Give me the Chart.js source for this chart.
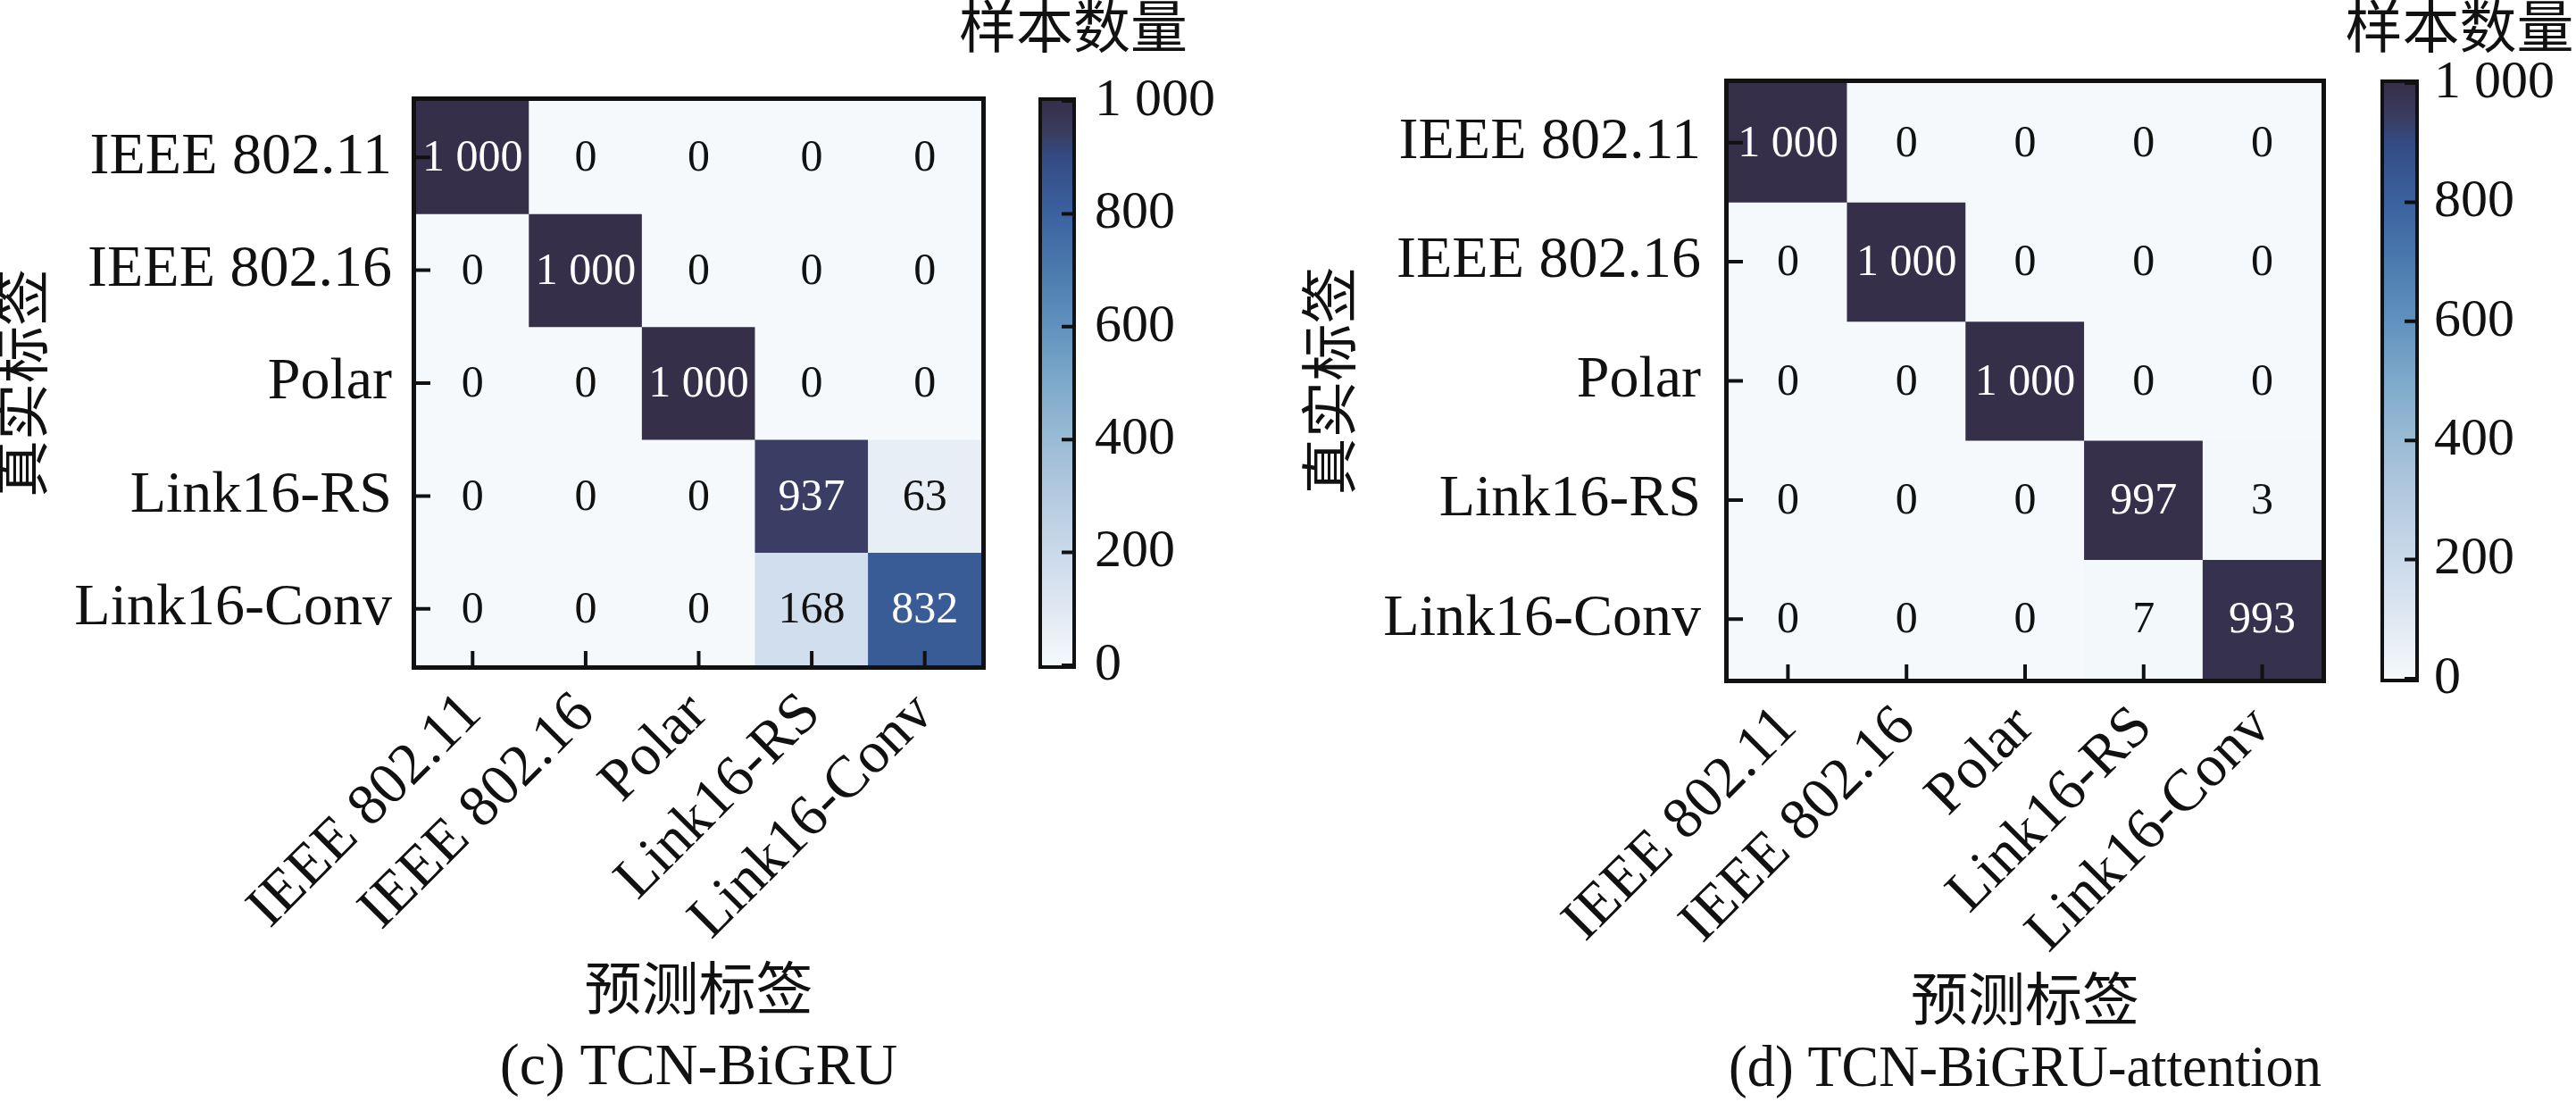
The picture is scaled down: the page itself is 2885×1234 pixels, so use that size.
<!DOCTYPE html>
<html>
<head>
<meta charset="utf-8">
<script src="https://cdn.jsdelivr.net/npm/chart.js@4.4.1/dist/chart.umd.min.js"></script>
<style>
  html, body { margin: 0; padding: 0; background: #fff; }
  body { width: 2885px; height: 1234px; position: relative; overflow: hidden; }
  canvas { position: absolute; top: 0; }
</style>
</head>
<body>
<canvas id="cmLeft" style="left:0px"></canvas>
<canvas id="cbLeft" style="left:1060px"></canvas>
<canvas id="cmRight" style="left:1440px"></canvas>
<canvas id="cbRight" style="left:2600px"></canvas>

<script>
// ---- data ----
const classLabels = ["IEEE 802.11", "IEEE 802.16", "Polar", "Link16-RS", "Link16-Conv"];

const countsBiGRU = [
    [1000, 0, 0, 0, 0],
    [0, 1000, 0, 0, 0],
    [0, 0, 1000, 0, 0],
    [0, 0, 0, 937, 63],
    [0, 0, 0, 168, 832],
];

const countsAttention = [
    [1000, 0, 0, 0, 0],
    [0, 1000, 0, 0, 0],
    [0, 0, 1000, 0, 0],
    [0, 0, 0, 997, 3],
    [0, 0, 0, 7, 993],
];

const colorbarTicks = [0, 200, 400, 600, 800, 1000];
const colorbarMax = 1000;

const xTitle = "预测标签";
const yTitle = "真实标签";
const colorbarTitle = "样本数量";
const captionLeft = "(c) TCN-BiGRU";
const captionRight = "(d) TCN-BiGRU-attention";

// ---- style ----
const serif = "'Liberation Serif', 'Noto Sans CJK SC', serif";
const ink = "#111111";

const cmapStops = [
    [0.00, "#f5f9fb"],
    [0.10, "#dfe8f2"],
    [0.20, "#cad9ea"],
    [0.30, "#b4cadf"],
    [0.40, "#9abbd5"],
    [0.50, "#7da9ca"],
    [0.60, "#6192be"],
    [0.70, "#4b7aae"],
    [0.80, "#3b629f"],
    [0.90, "#344b84"],
    [0.94, "#3a3d61"],
    [1.00, "#362f49"],
];

Chart.defaults.font.family = serif;
Chart.defaults.color = ink;

function hexToRgb(h) {
    return [1, 3, 5].map((i) => parseInt(h.substr(i, 2), 16));
}

function cmapColor(t) {
    t = Math.max(0, Math.min(1, t));
    for (let i = 1; i < cmapStops.length; i++) {
        const [t1, c1] = cmapStops[i];
        if (t <= t1) {
            const [t0, c0] = cmapStops[i - 1];
            const f = (t - t0) / (t1 - t0);
            const a = hexToRgb(c0);
            const b = hexToRgb(c1);
            const rgb = a.map((v, k) => Math.round(v + (b[k] - v) * f));
            return "rgb(" + rgb.join(",") + ")";
        }
    }
    return cmapStops[cmapStops.length - 1][1];
}

function fmt(v) {
    if (v >= 1000) {
        return Math.floor(v / 1000) + " " + String(v % 1000).padStart(3, "0");
    }
    return String(v);
}

// numbers in the cells
const cellText = {
    id: "cellText",
    afterDatasetsDraw(chart, args, opts) {
        const ctx = chart.ctx;
        ctx.save();
        ctx.font = "50px " + serif;
        ctx.textAlign = "center";
        ctx.textBaseline = "middle";
        opts.counts.forEach((row, r) => {
            const meta = chart.getDatasetMeta(r);
            row.forEach((v, c) => {
                const p = meta.data[c].getCenterPoint();
                ctx.fillStyle = v > colorbarMax / 2 ? "#ffffff" : ink;
                ctx.fillText(fmt(v), p.x, p.y + 2);
            });
        });
        ctx.restore();
    },
};

// black frame, inward ticks, colorbar title
const frameTicks = {
    id: "frameTicks",
    afterDraw(chart, args, opts) {
        const ctx = chart.ctx;
        const a = chart.chartArea;
        ctx.save();
        ctx.strokeStyle = ink;
        ctx.lineWidth = opts.tickWidth;
        ctx.beginPath();
        if (opts.xTicks) {
            const xs = chart.scales.x;
            xs.ticks.forEach((t, i) => {
                const px = xs.getPixelForTick(i);
                ctx.moveTo(px, a.bottom);
                ctx.lineTo(px, a.bottom - opts.tickLen);
            });
        }
        const ys = chart.scales.y;
        ys.ticks.forEach((t) => {
            const py = ys.getPixelForValue(t.value);
            if (opts.ySide === "right") {
                ctx.moveTo(a.right, py);
                ctx.lineTo(a.right - opts.tickLen, py);
            } else {
                ctx.moveTo(a.left, py);
                ctx.lineTo(a.left + opts.tickLen, py);
            }
        });
        ctx.stroke();
        const lw = opts.lineWidth;
        ctx.lineWidth = lw;
        ctx.strokeRect(a.left - lw / 2, a.top - lw / 2,
            a.right - a.left + lw, a.bottom - a.top + lw);
        if (opts.title) {
            ctx.font = "64px " + serif;
            ctx.fillStyle = ink;
            ctx.textAlign = "center";
            ctx.textBaseline = "middle";
            ctx.fillText(opts.title, (a.left + a.right) / 2 + opts.titleDx, opts.titleY);
        }
        ctx.restore();
    },
};

function makeHeatmap(id, width, counts, caption, b) {
    const canvas = document.getElementById(id);
    canvas.width = width;
    canvas.height = 1234;
    canvas.style.width = width + "px";
    canvas.style.height = "1234px";

    const datasets = counts.map((row, r) => ({
        data: row.map(() => [r - 0.5, r + 0.5]),
        backgroundColor: row.map((v) => cmapColor(v / colorbarMax)),
        borderWidth: 0,
        barPercentage: 1,
        categoryPercentage: 1,
        grouped: false,
    }));

    return new Chart(canvas, {
        type: "bar",
        data: {
            labels: classLabels,
            datasets: datasets,
        },
        options: {
            responsive: false,
            animation: false,
            devicePixelRatio: 1,
            layout: {
                padding: {left: b.padLeft, top: b.top, right: b.padRight, bottom: b.padBottom},
            },
            plugins: {
                legend: {display: false},
                tooltip: {enabled: false},
                title: {
                    display: true,
                    position: "bottom",
                    fullSize: false,
                    text: caption,
                    color: ink,
                    font: {size: 66, weight: "normal", lineHeight: 1},
                    padding: 0,
                },
                cellText: {counts: counts},
                frameTicks: {lineWidth: 5, tickWidth: 4, tickLen: 16, xTicks: true, ySide: "left"},
            },
            scales: {
                x: {
                    type: "category",
                    grid: {display: false, drawTicks: false},
                    border: {display: false},
                    ticks: {
                        font: {size: 66},
                        color: ink,
                        minRotation: 45,
                        maxRotation: 45,
                        autoSkip: false,
                        padding: b.xTickPad,
                    },
                    title: {
                        display: true,
                        text: xTitle,
                        color: ink,
                        font: {size: 64, lineHeight: 1.2},
                        padding: {top: 0, bottom: b.xTitlePad},
                    },
                    afterFit: (s) => { s.height = b.xHeight; },
                },
                y: {
                    type: "linear",
                    min: -0.5,
                    max: classLabels.length - 0.5,
                    reverse: true,
                    grid: {display: false, drawTicks: false},
                    border: {display: false},
                    afterBuildTicks: (s) => {
                        s.ticks = classLabels.map((_, i) => ({value: i}));
                    },
                    ticks: {
                        font: {size: 66},
                        color: ink,
                        autoSkip: false,
                        padding: b.yTickPad,
                        callback: (v) => classLabels[v],
                    },
                    title: {
                        display: true,
                        text: yTitle,
                        color: ink,
                        font: {size: 64, lineHeight: 0.94},
                        padding: {top: b.yTitlePad, bottom: 0},
                    },
                    afterFit: (s) => { s.width = b.yWidth; },
                },
            },
        },
        plugins: [cellText, frameTicks],
    });
}

function makeColorbar(id, width, b) {
    const canvas = document.getElementById(id);
    canvas.width = width;
    canvas.height = 1234;
    canvas.style.width = width + "px";
    canvas.style.height = "1234px";

    return new Chart(canvas, {
        type: "bar",
        data: {
            labels: [""],
            datasets: [{
                data: [[0, colorbarMax]],
                backgroundColor: (c) => {
                    const chart = c.chart;
                    if (!chart.chartArea) {
                        return cmapStops[0][1];
                    }
                    const ys = chart.scales.y;
                    const g = chart.ctx.createLinearGradient(
                        0, ys.getPixelForValue(0), 0, ys.getPixelForValue(colorbarMax));
                    cmapStops.forEach(([t, col]) => g.addColorStop(t, col));
                    return g;
                },
                borderWidth: 0,
                barPercentage: 1,
                categoryPercentage: 1,
            }],
        },
        options: {
            responsive: false,
            animation: false,
            devicePixelRatio: 1,
            layout: {
                padding: {left: b.padLeft, top: b.top, right: b.padRight, bottom: b.padBottom},
            },
            plugins: {
                legend: {display: false},
                tooltip: {enabled: false},
                frameTicks: {
                    lineWidth: 4, tickWidth: 4, tickLen: 12, xTicks: false, ySide: "right",
                    title: colorbarTitle, titleDx: b.titleDx, titleY: 36,
                },
            },
            scales: {
                x: {display: false},
                y: {
                    position: "right",
                    min: 0,
                    max: colorbarMax,
                    grid: {display: false, drawTicks: false},
                    border: {display: false},
                    afterBuildTicks: (s) => {
                        s.ticks = colorbarTicks.map((v) => ({value: v}));
                    },
                    ticks: {
                        font: {size: 60},
                        color: ink,
                        padding: b.tickPad,
                        callback: (v) => fmt(v),
                    },
                    afterFit: (s) => { s.width = b.yWidth; },
                },
            },
        },
        plugins: [frameTicks],
    });
}

makeHeatmap("cmLeft", 1440, countsBiGRU, captionLeft, {
    padLeft: 0, yWidth: 466, padRight: 341, top: 113, padBottom: 4,
    xHeight: 419, xTickPad: 16, xTitlePad: 12.6, yTickPad: 27, yTitlePad: 0,
});

makeHeatmap("cmRight", 1445, countsAttention, captionRight, {
    padLeft: 25, yWidth: 471, padRight: 285, top: 93, padBottom: 2,
    xHeight: 406, xTickPad: 16, xTitlePad: 2.6, yTickPad: 31, yTitlePad: 0,
});

makeColorbar("cbLeft", 380, {
    padLeft: 107, padRight: 59, top: 113, padBottom: 489, yWidth: 180, tickPad: 25, titleDx: 18,
});

makeColorbar("cbRight", 285, {
    padLeft: 70, padRight: 0, top: 93, padBottom: 474, yWidth: 180, tickPad: 21, titleDx: 67,
});
</script>
</body>
</html>
